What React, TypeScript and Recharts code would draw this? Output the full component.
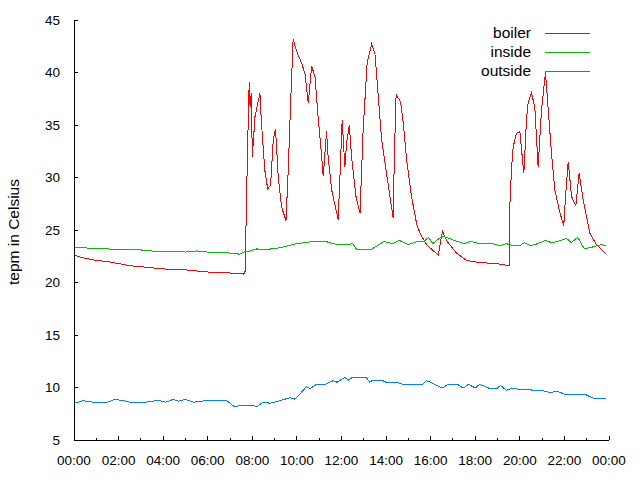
import React from 'react';
import { LineChart, Line, XAxis, YAxis } from 'recharts';

// [hour of day, temperature in Celsius]
const boiler: [number, number][] = [
  [0, 22.6], [0.5, 22.3], [1, 22.1], [1.5, 22.0], [2, 21.8], [2.5, 21.6], [3, 21.5], [3.5, 21.4],
  [4, 21.3], [4.5, 21.2], [5, 21.2], [5.5, 21.1], [6, 21.0], [6.5, 21.0], [7, 20.9], [7.5, 20.9],
  [7.6, 20.8], [7.67, 20.9], [7.74, 27.6], [7.78, 32.3], [7.86, 39.1], [7.9, 36.7], [7.95, 38.0],
  [8.0, 32.0], [8.12, 35.8], [8.34, 38.0], [8.4, 35.5], [8.56, 30.7], [8.69, 28.9], [8.82, 29.3],
  [8.94, 33.6], [9.04, 34.6], [9.16, 30.1], [9.31, 27.2], [9.51, 25.9], [9.61, 30.7], [9.72, 37.2],
  [9.83, 43.2], [9.99, 42.0], [10.21, 40.9], [10.36, 39.9], [10.51, 37.1], [10.66, 40.6], [10.81, 39.6],
  [10.96, 35.5], [11.11, 32.0], [11.18, 30.1], [11.33, 34.4], [11.4, 32.0], [11.56, 28.8], [11.85, 26.0],
  [11.93, 30.1], [12.03, 35.5], [12.15, 31.0], [12.23, 33.3], [12.35, 35.0], [12.45, 32.0], [12.65, 28.2],
  [12.83, 26.6], [12.97, 34.5], [13.15, 40.9], [13.35, 42.7], [13.5, 41.8], [13.65, 37.7], [13.8, 33.6],
  [14.02, 30.4], [14.32, 26.1], [14.37, 32.0], [14.45, 37.9], [14.65, 37.2], [14.77, 35.2], [14.92, 31.7],
  [15.14, 28.2], [15.37, 25.6], [15.52, 24.7], [15.82, 23.6], [16.34, 22.6], [16.53, 24.9], [16.71, 24.0],
  [17.16, 22.8], [17.61, 22.1], [18.2, 21.9], [18.95, 21.8], [19.52, 21.6], [19.55, 27.2], [19.63, 30.9],
  [19.7, 32.9], [19.85, 34.2], [20.0, 34.4], [20.12, 31.7], [20.18, 30.4], [20.3, 35.6], [20.37, 37.1],
  [20.52, 38.1], [20.67, 36.7], [20.82, 31.0], [20.97, 36.4], [21.15, 40.0], [21.22, 38.0], [21.42, 32.3],
  [21.57, 28.8], [21.79, 26.7], [21.97, 25.4], [22.06, 28.5], [22.17, 31.5], [22.32, 28.2], [22.51, 27.3],
  [22.66, 30.4], [22.84, 27.9], [23.14, 24.7], [23.44, 23.6], [23.86, 22.7],
];

const inside: [number, number][] = [
  [0, 23.3], [0.5, 23.3], [1, 23.2], [1.5, 23.2], [2, 23.1], [2.5, 23.1], [3, 23.1], [3.5, 23.0],
  [4, 23.0], [4.5, 23.0], [5, 22.9], [5.5, 23.0], [6, 22.9], [6.5, 22.9], [7, 22.8], [7.44, 22.7],
  [7.7, 23.0], [7.9, 23.0], [8.2, 23.2], [8.5, 23.1], [9.2, 23.3], [9.6, 23.5], [10.0, 23.7],
  [10.7, 23.9], [11.3, 23.9], [11.8, 23.6], [12.3, 23.6], [12.5, 23.7], [12.7, 23.1], [13.3, 23.1],
  [13.9, 23.9], [14.3, 23.7], [14.6, 24.0], [15.0, 23.6], [15.4, 23.9], [15.7, 23.9], [15.9, 24.3],
  [16.1, 23.7], [16.5, 24.4], [16.7, 24.3], [17.2, 23.9], [17.5, 23.7], [17.8, 23.9], [18.2, 23.7],
  [18.8, 23.7], [19.1, 23.5], [19.4, 23.7], [19.7, 23.5], [20.0, 23.5], [20.2, 23.8], [20.5, 23.5],
  [20.8, 23.7], [21.15, 24.0], [21.4, 23.8], [21.7, 23.9], [22.1, 24.2], [22.3, 23.8], [22.6, 24.3],
  [22.9, 23.2], [23.3, 23.4], [23.66, 23.6], [23.86, 23.5],
];

const outside: [number, number][] = [
  [0, 8.6], [0.2, 8.6], [0.4, 8.75], [0.85, 8.6], [1.5, 8.6], [1.84, 8.87], [2.2, 8.75], [2.5, 8.6],
  [3.2, 8.6], [3.5, 8.7], [3.86, 8.75], [4.1, 8.6], [4.45, 8.87], [4.7, 8.7], [4.98, 8.87], [5.35, 8.6],
  [5.95, 8.75], [6.85, 8.75], [7.22, 8.14], [7.5, 8.33], [8.0, 8.33], [8.2, 8.17], [8.48, 8.6],
  [8.8, 8.5], [9.24, 8.75], [9.69, 9.03], [9.9, 8.9], [10.1, 9.3], [10.43, 10.08], [10.6, 9.9],
  [10.9, 10.33], [11.3, 10.33], [11.63, 10.65], [11.8, 10.5], [12.15, 10.97], [12.3, 10.7],
  [12.5, 10.97], [13.1, 10.97], [13.27, 10.5], [13.4, 10.7], [13.8, 10.7], [14.0, 10.5], [14.5, 10.5],
  [14.75, 10.3], [15.65, 10.3], [15.81, 10.65], [16.1, 10.4], [16.5, 9.95], [16.8, 10.3], [17.2, 10.3],
  [17.46, 9.95], [17.7, 10.3], [18.0, 9.95], [18.2, 10.3], [18.6, 9.95], [19.0, 9.95], [19.13, 10.2],
  [19.4, 9.73], [19.6, 9.9], [19.9, 9.85], [20.3, 9.85], [20.6, 9.73], [21.0, 9.73], [21.25, 9.57],
  [21.5, 9.57], [21.7, 9.6], [22.0, 9.38], [22.9, 9.38], [23.3, 8.97], [23.7, 8.97], [23.86, 8.9],
];

const hourTicks = [0, 1, 2, 3, 4, 5, 6, 7, 8, 9, 10, 11, 12, 13, 14, 15, 16, 17, 18, 19, 20, 21, 22, 23, 24];
const hourLabels = ['00:00', '02:00', '04:00', '06:00', '08:00', '10:00', '12:00', '14:00', '16:00', '18:00', '20:00', '22:00', '00:00'];
const tempTicks = [5, 10, 15, 20, 25, 30, 35, 40, 45];

const series = [
  { name: 'boiler', data: boiler, color: '#ff0000' },
  { name: 'inside', data: inside, color: '#00c000' },
  { name: 'outside', data: outside, color: '#0080ff' },
];

const FONT = '"Liberation Sans", Arial, sans-serif';

const toRows = (pts: [number, number][]) => pts.map(([h, t]) => ({ h, t }));

const BottomTick = ({ x, y, payload }: any) => {
  const h = payload.value;
  const major = h % 2 === 0;
  return (
    <g>
      <line x1={x} y1={y} x2={x} y2={y - (major ? 4 : 2)} stroke="#000" shapeRendering="crispEdges" />
      {major && (
        <text x={x} y={y + 25} textAnchor="middle" fontFamily={FONT} fontSize={13.5} fill="#000">
          {hourLabels[h / 2]}
        </text>
      )}
    </g>
  );
};

const TopTick = ({ x, y, payload }: any) => {
  const major = payload.value % 2 === 0;
  return <line x1={x} y1={y} x2={x} y2={y + (major ? 4 : 2)} stroke="#000" shapeRendering="crispEdges" />;
};

const LeftTick = ({ x, y, payload }: any) => (
  <g>
    <line x1={x} y1={y} x2={x + 4} y2={y} stroke="#000" shapeRendering="crispEdges" />
    <text x={x - 14} y={y} dy="0.35em" textAnchor="end" fontFamily={FONT} fontSize={13.5} fill="#000">
      {payload.value}
    </text>
  </g>
);

const RightTick = ({ x, y }: any) => (
  <line x1={x} y1={y} x2={x - 4} y2={y} stroke="#000" shapeRendering="crispEdges" />
);

const YLabel = (props: any) => {
  const vb = props.viewBox;
  const cx = vb.x + 14;
  const cy = vb.y + vb.height / 2 + 2;
  return (
    <text
      x={cx}
      y={cy}
      dy="0.35em"
      transform={`rotate(-90 ${cx} ${cy})`}
      textAnchor="middle"
      fontFamily={FONT}
      fontSize={15.5}
      fill="#000"
    >
      tepm in Celsius
    </text>
  );
};

const axisLine = { stroke: '#000', shapeRendering: 'crispEdges' };

export default function App() {
  return (
    <div style={{ position: 'absolute', left: 0, top: 0, width: 640, height: 480, background: '#fff' }}>
      <LineChart width={640} height={480} margin={{ top: 20, right: 31, bottom: 0, left: 0 }}>
        <XAxis
          dataKey="h"
          type="number"
          domain={[0, 24]}
          allowDataOverflow
          ticks={hourTicks}
          interval={0}
          height={40}
          tickSize={0}
          tickMargin={0}
          tickLine={false}
          axisLine={axisLine}
          tick={<BottomTick />}
        />
        <XAxis
          xAxisId="top"
          orientation="top"
          type="number"
          domain={[0, 24]}
          allowDataOverflow
          ticks={hourTicks}
          interval={0}
          height={0}
          tickSize={0}
          tickMargin={0}
          tickLine={false}
          axisLine={axisLine}
          tick={<TopTick />}
        />
        <YAxis
          type="number"
          domain={[5, 45]}
          allowDataOverflow
          ticks={tempTicks}
          interval={0}
          width={74}
          tickSize={0}
          tickMargin={0}
          tickLine={false}
          axisLine={axisLine}
          tick={<LeftTick />}
          label={{ value: 'tepm in Celsius', content: <YLabel /> }}
        />
        <YAxis
          yAxisId="right"
          orientation="right"
          type="number"
          domain={[5, 45]}
          allowDataOverflow
          ticks={tempTicks}
          interval={0}
          width={0}
          tickSize={0}
          tickMargin={0}
          tickLine={false}
          axisLine={axisLine}
          tick={<RightTick />}
        />
        {series.map((s) => (
          <Line
            key={s.name}
            name={s.name}
            data={toRows(s.data)}
            dataKey="t"
            type="linear"
            stroke={s.color}
            strokeWidth={1}
            dot={false}
            activeDot={false}
            isAnimationActive={false}
            shapeRendering="crispEdges"
          />
        ))}
      </LineChart>
      <div style={{ position: 'absolute', left: 0, top: 0, width: 640, height: 480, pointerEvents: 'none' }}>
        {series.map((s, i) => (
          <div key={s.name} style={{ position: 'absolute', left: 400, top: 33 + i * 19 - 10, width: 190, height: 20 }}>
            <span
              style={{
                position: 'absolute',
                right: 59,
                top: 0,
                lineHeight: '20px',
                fontFamily: FONT,
                fontSize: 15.5,
                color: '#000',
                whiteSpace: 'nowrap',
              }}
            >
              {s.name}
            </span>
            <div style={{ position: 'absolute', left: 145, top: 10, width: 45, height: 1, background: s.color }} />
          </div>
        ))}
      </div>
    </div>
  );
}
